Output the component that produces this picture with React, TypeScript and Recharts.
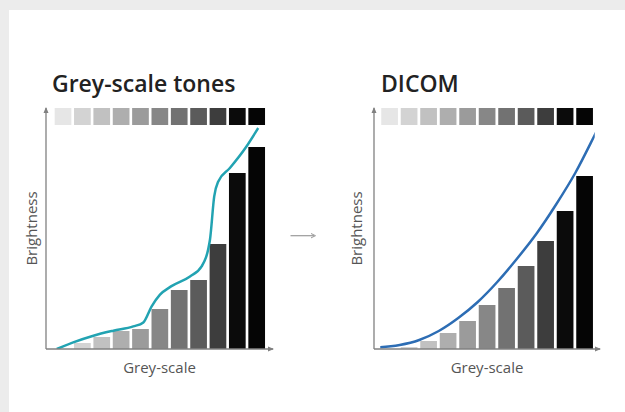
import React from 'react';
import { ComposedChart, Bar, Line, XAxis, YAxis, Cell } from 'recharts';

// Grey-scale levels (categories)
const greyLevels = ['1', '2', '3', '4', '5', '6', '7', '8', '9', '10', '11'];
const toneColors = ['#e6e6e6', '#d3d3d3', '#c1c1c1', '#aeaeae', '#9b9b9b', '#878787', '#727272', '#5b5b5b', '#3d3d3d', '#0b0b0b', '#050505'];
const swatchBand = [224, 241];

// Bar heights (brightness)
const toneBrightness = [0, 6, 12, 18, 20, 40, 59, 69, 105, 176, 202];
const dicomBrightness = [0, 2, 8, 16, 28, 44, 61, 83, 108, 138, 173];

// Curves: x in grey-level units (0..11), y brightness
const toneCurveX = [0.16, 1.01, 2.05, 3.08, 4.11, 4.63, 5.06, 5.49, 6.06, 7.04, 7.64, 8.07, 8.29, 8.5, 9.1, 9.9, 10.56];
const toneCurveY = [0, 6.6, 13.3, 18.3, 22.6, 26.6, 42.6, 54.3, 62.6, 72.6, 82.6, 109.3, 152.6, 167.6, 181, 201, 221];
const dicomCurveX = [-0.32, 0, 1, 2, 3, 4, 5, 6, 7, 8, 9, 10, 11, 11.18];
const dicomCurveY = [1.5, 1.8, 4, 9, 18, 31, 47, 67, 90, 115, 144, 176, 214, 221];

const buildBars = (values: number[]) =>
  greyLevels.map((name, i) => ({ name, v: values[i], sw: swatchBand }));
const buildCurve = (xs: number[], ys: number[]) => xs.map((x, i) => ({ x, y: ys[i] }));

const AXIS = '#808080';
const LABEL = '#555555';

type PanelProps = {
  id: string;
  bars: any[];
  curve: any[];
  color: string;
  margin: { top: number; left: number; right: number; bottom: number };
  padding: { left: number; right: number };
  yLabelOffset: number;
};

function Panel({ id, bars, curve, color, margin, padding, yLabelOffset }: PanelProps) {
  const cells = bars.map((d, i) => <Cell key={d.name} fill={toneColors[i]} />);
  return (
    <ComposedChart width={300} height={412} data={bars} margin={margin}>
      <defs>
        <marker
          id={`${id}-arrow`}
          viewBox="0 0 6 6"
          refX="5"
          refY="3"
          markerWidth="6"
          markerHeight="6"
          markerUnits="userSpaceOnUse"
          orient="auto-start-reverse"
        >
          <path d="M0,0.5 L6,3 L0,5.5 Z" fill={AXIS} />
        </marker>
      </defs>
      <XAxis
        xAxisId="cat"
        dataKey="name"
        type="category"
        height={1}
        tick={false}
        tickLine={false}
        padding={padding}
        axisLine={{ stroke: AXIS, strokeWidth: 1.3, markerEnd: `url(#${id}-arrow)` }}
        label={{ value: 'Grey-scale', position: 'bottom', offset: 12, fill: LABEL, fontSize: 15 }}
      />
      <XAxis xAxisId="sw" dataKey="name" type="category" hide padding={padding} />
      <XAxis xAxisId="num" dataKey="x" type="number" domain={[0, 11]} allowDataOverflow hide padding={padding} />
      <YAxis
        yAxisId="b"
        type="number"
        domain={[0, 241]}
        allowDataOverflow
        width={1}
        tick={false}
        tickLine={false}
        axisLine={{ stroke: AXIS, strokeWidth: 1.3, markerStart: `url(#${id}-arrow)` }}
        label={{
          value: 'Brightness',
          angle: -90,
          position: 'left',
          offset: yLabelOffset,
          fill: LABEL,
          fontSize: 15,
          style: { textAnchor: 'middle' },
        }}
      />
      <Bar xAxisId="cat" yAxisId="b" dataKey="v" barSize={16.7} isAnimationActive={false}>
        {cells}
      </Bar>
      <Bar xAxisId="sw" yAxisId="b" dataKey="sw" barSize={16.7} isAnimationActive={false}>
        {cells}
      </Bar>
      <Line
        xAxisId="num"
        yAxisId="b"
        data={curve}
        dataKey="y"
        type="monotone"
        stroke={color}
        strokeWidth={2.5}
        dot={false}
        activeDot={false}
        isAnimationActive={false}
      />
    </ComposedChart>
  );
}

const titleStyle: React.CSSProperties = {
  position: 'absolute',
  top: 72,
  fontSize: 23,
  lineHeight: '23px',
  fontWeight: 600,
  color: '#222222',
  whiteSpace: 'nowrap',
};

export default function App() {
  return (
    <div
      style={{
        position: 'absolute',
        left: 0,
        top: 0,
        width: 625,
        height: 412,
        background: '#ececec',
        overflow: 'hidden',
        fontFamily: '"Open Sans", sans-serif',
      }}
    >
      <div style={{ position: 'absolute', left: 9, top: 10, width: 616, height: 402, background: '#ffffff' }} />
      <div style={{ ...titleStyle, left: 52 }}>Grey-scale tones</div>
      <div style={{ ...titleStyle, left: 381 }}>DICOM</div>
      <div style={{ position: 'absolute', left: 0, top: 0 }}>
        <Panel
          id="tone"
          bars={buildBars(toneBrightness)}
          curve={buildCurve(toneCurveX, toneCurveY)}
          color="#22a3b2"
          margin={{ top: 108, left: 45, right: 27, bottom: 62 }}
          padding={{ left: 7.67, right: 6.3 }}
          yLabelOffset={13}
        />
      </div>
      <div style={{ position: 'absolute', left: 320, top: 0 }}>
        <Panel
          id="dicom"
          bars={buildBars(dicomBrightness)}
          curve={buildCurve(dicomCurveX, dicomCurveY)}
          color="#2d6db4"
          margin={{ top: 108, left: 53, right: 20, bottom: 62 }}
          padding={{ left: 6.25, right: 5.25 }}
          yLabelOffset={16}
        />
      </div>
      <svg style={{ position: 'absolute', left: 286, top: 229 }} width={34} height={14}>
        <line x1={4.5} y1={6.7} x2={28} y2={6.7} stroke="#9a9a9a" strokeWidth={1.2} />
        <path d="M25,4.5 L29.5,6.7 L25,8.9" fill="none" stroke="#9a9a9a" strokeWidth={1} />
      </svg>
    </div>
  );
}
